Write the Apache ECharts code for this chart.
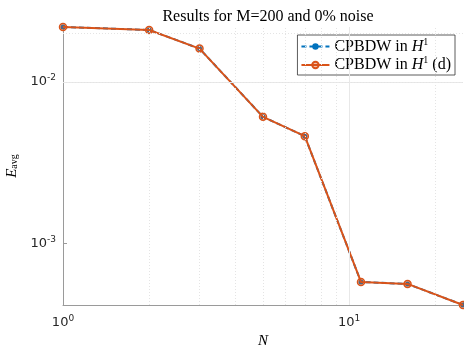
<!DOCTYPE html>
<html>
<head>
<meta charset="utf-8">
<script src="https://cdn.jsdelivr.net/npm/echarts@6/dist/echarts.min.js"></script>
<style>
  html, body { margin: 0; padding: 0; background: #fff; }
  #chart { width: 464px; height: 346px; }
</style>
</head>
<body>
<div id="chart"></div>
<script>
// number of basis functions N
var nValues = [1, 2, 3, 5, 7, 11, 16, 25];
// average error, CPBDW in H1 and its (d) variant
var errH1 = [0.0219, 0.0210, 0.0161, 0.00609, 0.00462, 0.000579, 0.000563, 0.000417];
var errH1d = [0.0219, 0.0210, 0.0161, 0.00609, 0.00462, 0.000579, 0.000563, 0.000417];

// grid lines of the log axes
var yMajor = [0.001, 0.01];
var yMinor = [0.0005, 0.0006, 0.0007, 0.0008, 0.0009, 0.002, 0.003, 0.004, 0.005, 0.006, 0.007, 0.008, 0.009, 0.02];
var xMajor = [10];
var xMinor = [2, 3, 4, 5, 6, 7, 8, 9, 20];

var serif = "'Liberation Serif', 'DejaVu Serif', serif";
var sans = "'DejaVu Sans', sans-serif";

function pairs(xs, ys) {
    return xs.map(function (x, i) { return [x, ys[i]]; });
}

function powLabel(v) {
    var e = Math.log(v) / Math.LN10;
    var r = Math.round(e);
    if (Math.abs(e - r) > 1e-6) return '';
    return '{b|10}{s|' + r + '}';
}

var labelRich = {
    b: { fontFamily: sans, fontSize: 13, color: '#262626' },
    s: { fontFamily: sans, fontSize: 9, color: '#262626', verticalAlign: 'top', padding: [0, 0, 8, 0] }
};

var gridLines = [];
yMajor.forEach(function (v) { gridLines.push({ yAxis: v, lineStyle: { color: '#e8e8e8', type: 'solid', width: 1 } }); });
yMinor.forEach(function (v) { gridLines.push({ yAxis: v, lineStyle: { color: '#e4e4e4', type: [1, 2], width: 1 } }); });
xMajor.forEach(function (v) { gridLines.push({ xAxis: v, lineStyle: { color: '#e8e8e8', type: 'solid', width: 1 } }); });
xMinor.forEach(function (v) { gridLines.push({ xAxis: v, lineStyle: { color: '#e4e4e4', type: [1, 2], width: 1 } }); });

var legendRich = {
    a: { fontFamily: serif, fontSize: 16, color: '#000' },
    i: { fontFamily: serif, fontSize: 16, fontStyle: 'italic', color: '#000' },
    s: { fontFamily: serif, fontSize: 10, color: '#000', verticalAlign: 'top', padding: [0, 0, 9, 0] }
};

var chart = echarts.init(document.getElementById('chart'), null, { renderer: 'canvas' });
chart.setOption({
    animation: false,
    title: {
        text: 'Results for M=200 and 0% noise',
        left: 263,
        textAlign: 'center',
        top: 4,
        textStyle: { fontFamily: serif, fontSize: 16, fontWeight: 'normal', color: '#000' }
    },
    grid: { left: 63, right: 1, top: 27, bottom: 41, outerBoundsMode: 'none', containLabel: false },
    legend: {
        orient: 'vertical',
        right: 9,
        top: 35,
        padding: [2, 4, 2, 3],
        itemGap: 1,
        itemWidth: 28,
        itemHeight: 8,
        borderColor: '#333',
        borderWidth: 0.8,
        borderRadius: 0,
        backgroundColor: '#fff',
        data: ['h1', 'h1d'],
        formatter: function (name) {
            return name === 'h1' ? '{a|CPBDW in }{i|H}{s|1}' : '{a|CPBDW in }{i|H}{s|1}{a| (d)}';
        },
        textStyle: { rich: legendRich }
    },
    xAxis: {
        type: 'log',
        logBase: 10,
        min: 1,
        max: 25,
        name: 'N',
        nameLocation: 'middle',
        nameGap: 28,
        nameTextStyle: { fontFamily: serif, fontSize: 15, fontStyle: 'italic', color: '#000' },
        axisLine: { lineStyle: { color: '#9a9a9a', width: 1 } },
        axisTick: { inside: true, length: 4, lineStyle: { color: '#9a9a9a' } },
        splitLine: { show: false },
        axisLabel: { formatter: powLabel, rich: labelRich, margin: 9 }
    },
    yAxis: {
        type: 'log',
        logBase: 10,
        min: 'dataMin',
        max: 'dataMax',
        name: '{e|E}{s|avg}',
        nameLocation: 'middle',
        nameGap: 41,
        nameTextStyle: {
            rich: {
                e: { fontFamily: serif, fontSize: 15, fontStyle: 'italic', color: '#000' },
                s: { fontFamily: serif, fontSize: 10, color: '#000', verticalAlign: 'bottom', padding: [6, 0, 0, 0] }
            }
        },
        axisLine: { show: true, lineStyle: { color: '#9a9a9a', width: 1 } },
        axisTick: { inside: true, length: 4, lineStyle: { color: '#9a9a9a' } },
        splitLine: { show: false },
        axisLabel: { formatter: powLabel, rich: labelRich, margin: 7 }
    },
    series: [
        {
            name: 'grid',
            type: 'line',
            data: [],
            z: 1,
            silent: true,
            markLine: {
                silent: true,
                symbol: ['none', 'none'],
                label: { show: false },
                emphasis: { disabled: true },
                data: gridLines
            }
        },
        {
            name: 'h1',
            type: 'line',
            data: pairs(nValues, errH1),
            z: 3,
            symbol: 'circle',
            symbolSize: 5,
            color: '#0072BD',
            itemStyle: { color: '#0072BD' },
            lineStyle: { color: '#0072BD', width: 2, type: [5, 3] }
        },
        {
            name: 'h1d',
            type: 'line',
            data: pairs(nValues, errH1d),
            z: 4,
            symbol: 'circle',
            symbolSize: 7,
            showAllSymbol: true,
            color: '#D95319',
            itemStyle: { color: 'rgba(217,83,25,0.35)', borderColor: '#D95319', borderWidth: 1.5 },
            lineStyle: { color: '#D95319', width: 2 }
        }
    ]
});
</script>
</body>
</html>
